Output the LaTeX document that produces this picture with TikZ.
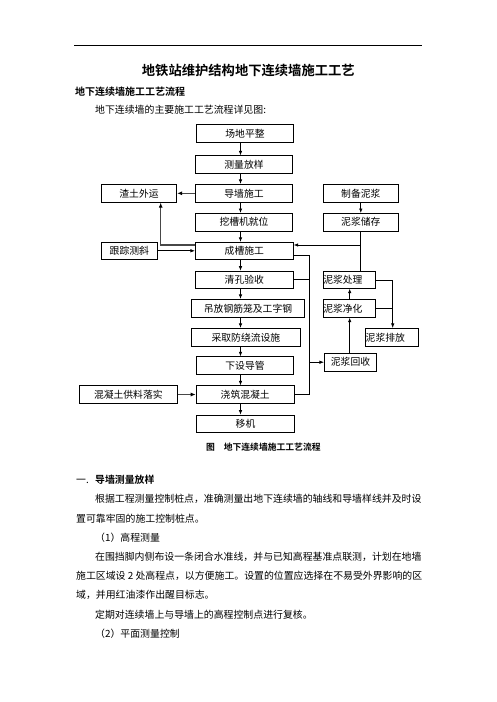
\documentclass[tikz,border=0pt]{standalone}
\usepackage{fontspec}
\setmainfont{Noto Sans CJK SC}[BoldFont={Noto Sans CJK SC Bold}]
\usetikzlibrary{arrows.meta,calc}
\begin{document}
\begin{tikzpicture}[x=1pt,y=-1pt,
 box/.style={draw, line width=0.7pt, inner sep=0pt, font=\fontsize{9.8}{11}\selectfont, minimum height=18pt},
 lbox/.style={box, text width=#1, align=left},
 arr/.style={draw, line width=0.7pt, -{Latex[length=4.5pt,width=3.5pt]}},
 ln/.style={draw, line width=0.7pt},
 garr/.style={draw, line width=1.3pt, black!72, -{Latex[length=5pt,width=4pt,color=black]}},
 body/.style={anchor=west, inner sep=0pt, font=\fontsize{9.886}{12}\selectfont},
]
\fill[white] (0,0) rectangle (496,702);
\useasboundingbox (0,0) rectangle (496,702);

% header
\draw[line width=0.8pt] (74,45) -- (422,45);
\node[font=\bfseries\fontsize{13.3}{16}\selectfont] (title) at (248.3,70) {地铁站维护结构地下连续墙施工工艺};
\node[body, font=\bfseries\fontsize{10}{12}\selectfont] (h1) at (75,91.7) {地下连续墙施工工艺流程};
\node[body] (intro) at (95,110) {地下连续墙的主要施工工艺流程详见图:};

% main column
\node[box, minimum width=96.6pt] (b1) at (245,133.3) {场地平整};
\node[box, minimum width=97.4pt] (b2) at (244,164.7) {测量放样};
\node[box, minimum width=97.4pt] (b3) at (244,193.3) {导墙施工};
\node[box, minimum width=97.4pt, minimum height=17.7pt] (b4) at (244,222.2) {挖槽机就位};
\node[box, minimum width=98pt, minimum height=17pt] (b5) at (244.3,250.8) {成槽施工};
\node[box, minimum width=98pt, minimum height=17.3pt] (b6) at (244.3,279.7) {清孔验收};
\node[box, minimum width=112.6pt] (b7) at (248,308.3) {吊放钢筋笼及工字钢};
\node[box, minimum width=108.3pt, minimum height=18.4pt] (b8) at (245.9,337.5) {采取防绕流设施};
\node[box, minimum width=96.6pt, minimum height=17.3pt] (b9) at (245,365.3) {下设导管};
\node[box, minimum width=98.3pt, minimum height=17.6pt] (b10) at (245.2,394.5) {浇筑混凝土};
\node[box, minimum width=97.6pt, minimum height=17.3pt] (b11) at (245.5,423.7) {移机};

% left column
\node[box, minimum width=75.4pt] (l1) at (139,193.3) {渣土外运};
\node[box, minimum width=56pt, minimum height=17pt] (l2) at (129.3,250.8) {跟踪测斜};
\node[box, minimum width=98pt, minimum height=17.6pt] (l3) at (128.3,394.5) {混凝土供料落实};

% right column
\node[box, minimum width=75pt] (r1) at (360.8,193.3) {制备泥浆};
\node[box, minimum width=75pt, minimum height=17.7pt] (r2) at (360.8,222.2) {泥浆储存};
\node[lbox=52.4pt, minimum height=16.6pt] (r3) at (349.5,280) {泥浆处理};
\node[lbox=52.4pt] (r4) at (349.5,308.3) {泥浆净化};
\node[lbox=52.6pt, minimum height=18.4pt] (r5) at (392,337.5) {泥浆排放};
\node[box, minimum width=52.4pt, minimum height=17.7pt] (r6) at (350.5,362.2) {泥浆回收};

% caption
\node[anchor=west, inner sep=0pt, font=\bfseries\fontsize{8.8}{10}\selectfont] (cap) at (206,447.3) {图\quad 地下连续墙施工工艺流程};

% main arrows
\coordinate (ax) at (240.5,0);
\foreach \a/\b in {b1/b2,b2/b3,b3/b4,b4/b5,b5/b6,b6/b7,b7/b8,b8/b9,b9/b10,b10/b11}
  \draw[arr] (\a.south -| ax) -- (\b.north -| ax);

% left connectors
\draw[garr] (b3.west) -- (l1.east);
\coordinate (j1) at (160.7,245);
\draw[garr] (b5.west |- j1) -- (j1) -- (l1.south -| j1);
\draw[arr] (l2.east) -- (b5.west |- l2.east);
\draw[garr] (l3.east) -- (b10.west);

% right connectors
\draw[arr] (r1.south) -- (r2.north);
\coordinate (j2) at (360.7,245);
\draw[ln] (r2.south -| j2) -- (r3.north -| j2);
\draw[arr] (j2) -- (b5.east |- j2);

\coordinate (p1) at (309,255.3);
\coordinate (p2) at (309,394.5);
\draw[ln] (b5.east |- p1) -- (p1) -- (p2) -- (b10.east);
\draw[ln] (b6.east) -- (b6.east -| p1);
\draw[arr] (r6.west -| p1) -- (r6.west);

\coordinate (xr) at (349.7,0);
\draw[arr] (r6.north -| xr) -- (r4.south -| xr);
\draw[arr] (r4.north -| xr) -- (r3.south -| xr);

\coordinate (q) at (392.7,0);
\draw[ln] (r3.east) -- (r3.east -| q);
\draw[arr] (r3.east -| q) -- (r5.north -| q);
\draw[ln] (r4.east) -- (r4.east -| q);

% body text
\node[body] (t1) at (76,480) {\makebox[19pt][l]{一.}\textbf{导墙测量放样}};
\node[body] (t2) at (95,499.2) {根据工程测量控制桩点，准确测量出地下连续墙的轴线和导墙样线并及时设};
\node[body] (t3) at (76,518.4) {置可靠牢固的施工控制桩点。};
\node[body] (t4) at (95,537.6) {（1）高程测量};
\node[body] (t5) at (95,556.8) {在围挡脚内侧布设一条闭合水准线，并与已知高程基准点联测，计划在地墙};
\node[body] (t6) at (76,576) {施工区域设 2 处高程点，以方便施工。设置的位置应选择在不易受外界影响的区};
\node[body] (t7) at (76,595.2) {域，并用红油漆作出醒目标志。};
\node[body] (t8) at (95,614.4) {定期对连续墙上与导墙上的高程控制点进行复核。};
\node[body] (t9) at (95,633.6) {（2）平面测量控制};
\end{tikzpicture}
\end{document}
